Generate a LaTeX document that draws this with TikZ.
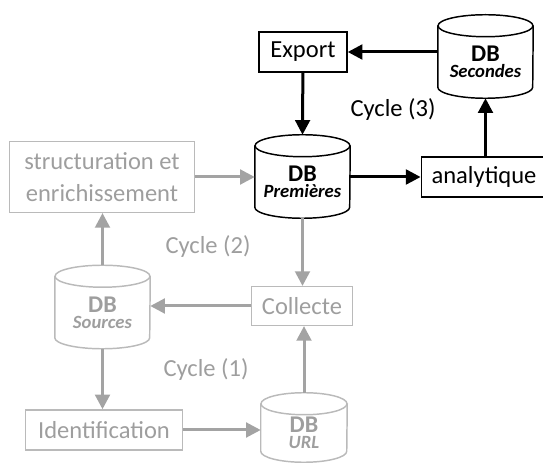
\documentclass[tikz,border=0pt]{standalone}
\usepackage{fontspec}
\setmainfont{Carlito}
\usetikzlibrary{positioning,arrows.meta}

\newcommand{\dblabel}[1]{{\fontsize{18}{18}\selectfont\bfseries DB}\\{\fontsize{14}{15}\selectfont\bfseries\itshape #1}}
% outline of a database drum round a node (#3 = half width)
\newcommand{\dbdrum}[3][]{%
  \draw[line width=1.1pt,#1] (#2.north) ellipse [x radius=#3,y radius=8.25pt];
  \draw[line width=1.1pt,#1] (#2.north west) -- ([yshift=8.25pt]#2.south west)
    arc [start angle=180,end angle=360,x radius=#3,y radius=8.25pt] -- (#2.north east);}

\begin{document}
\begin{tikzpicture}[x=0.75pt,y=-0.75pt,
  box/.style={draw,line width=1.1pt,inner sep=0pt,align=center,font=\fontsize{18.4}{24.5}\selectfont},
  dbase/.style={inner sep=0pt,align=center,minimum width=71.2pt,minimum height=54pt},
  pale/.style={draw=black!27,text=black!38},
  link/.style={->,line width=2.25pt},
  palelink/.style={link,draw=black!36,fill=black!36},
  >={Triangle[length=11pt,width=11pt]}]
  \useasboundingbox (0,0) rectangle (543,463);
  % cycle (3)
  \node[box,minimum width=66pt,minimum height=30pt] (export) at (303,52) {Export};
  \node[dbase] (secondes) at (485.5,62) {\dblabel{Secondes}};
  \node[dbase] (premieres) at (302.5,182) {\dblabel{Premières}};
  \node[box,minimum width=94pt,minimum height=30pt] (analytique) at (484,177) {analytique};
  \node[font=\fontsize{18.4}{22}\selectfont] (cycle3) at (393,110) {Cycle (3)};
  \dbdrum{secondes}{35.6pt}
  \dbdrum{premieres}{35.6pt}
  % cycles (1) and (2)
  \node[box,pale,minimum width=139pt,minimum height=53pt] (struct) at (102,177) {structuration et\\enrichissement};
  \node[dbase,text=black!38] (sources) at (102.5,312.5) {\dblabel{Sources}};
  \node[box,pale,minimum width=76pt,minimum height=29pt] (collecte) at (302,306) {Collecte};
  \node[box,pale,minimum width=118pt,minimum height=30pt] (ident) at (104,430) {Identification};
  \node[dbase,text=black!38,minimum width=64.5pt,minimum height=43.5pt] (url) at (304,433) {\dblabel{URL}};
  \node[text=black!38,font=\fontsize{18.4}{22}\selectfont] (cycle2) at (208,247) {Cycle (2)};
  \node[text=black!38,font=\fontsize{18.4}{22}\selectfont] (cycle1) at (206,370) {Cycle (1)};
  \dbdrum[draw=black!27]{sources}{35.6pt}
  \dbdrum[draw=black!27]{url}{32.25pt}

  \draw[link] (secondes.west |- export) -- (export.east);
  \draw[link] (export) -- ([yshift=8.25pt]premieres.north);
  \draw[link] (premieres.east |- analytique) -- (analytique.west);
  \draw[link] (analytique.north -| secondes.south) -- (secondes.south);
  \draw[palelink] (struct.east) -- (struct.east -| premieres.west);
  \draw[palelink] (premieres.south) -- (premieres.south |- collecte.north);
  \draw[palelink] (collecte.west) -- (collecte.west -| sources.east);
  \draw[palelink] ([yshift=8.25pt]sources.north) -- (sources.north |- struct.south);
  \draw[palelink] (sources.south) -- (sources.south |- ident.north);
  \draw[palelink] (ident.east) -- (ident.east -| url.west);
  \draw[palelink] ([yshift=8.25pt]url.north) -- (url.north |- collecte.south);
\end{tikzpicture}
\end{document}
